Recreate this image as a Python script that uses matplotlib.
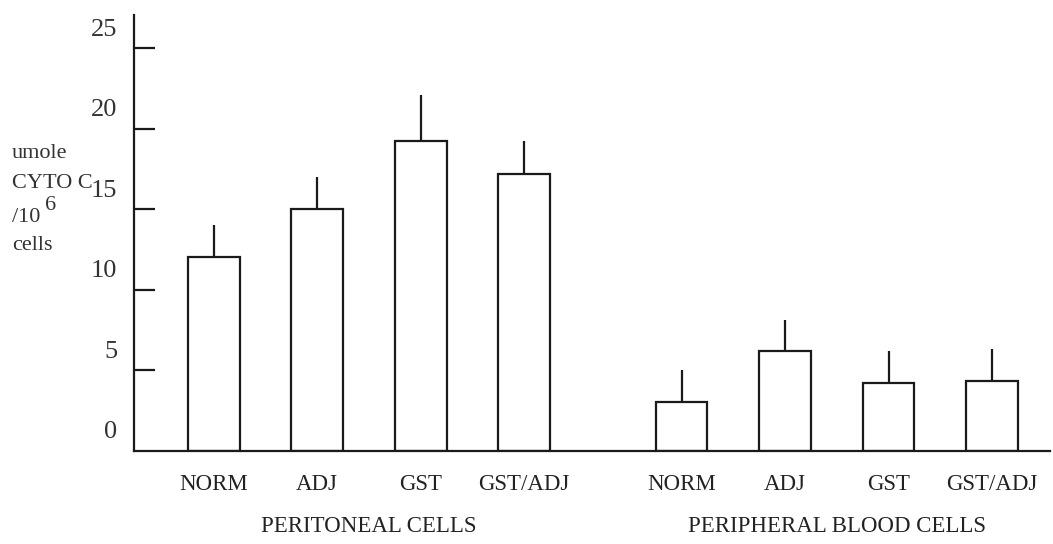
import matplotlib
matplotlib.use("Agg")
import matplotlib.pyplot as plt
import matplotlib.transforms as mtransforms

# values
groups = ["PERITONEAL CELLS", "PERIPHERAL BLOOD CELLS"]
treatments = ["NORM", "ADJ", "GST", "GST/ADJ"]
peritoneal_mean = [12.0, 15.0, 19.2, 17.2]
peritoneal_top = [14.0, 17.0, 22.1, 19.2]
blood_mean = [3.0, 6.15, 4.2, 4.3]
blood_top = [5.0, 8.1, 6.2, 6.3]
y_ticks = [0, 5, 10, 15, 20, 25]

means = peritoneal_mean + blood_mean
tops = peritoneal_top + blood_top
labels = treatments + treatments
gap = 1.52
xpos = [0, 1, 2, 3] + [3 + gap + i for i in range(4)]
errs = [t - m for t, m in zip(tops, means)]

plt.rcParams['font.family'] = ['Liberation Serif', 'DejaVu Serif']
ink = '#1a1a1a'

fig = plt.figure(figsize=(10.53, 5.44), dpi=100)
ax = fig.add_axes([134 / 1053, 1 - 450.5 / 544, (1050 - 134) / 1053, (450.5 - 15) / 544])

ax.bar(xpos, means, width=0.5, color='white', edgecolor=ink, linewidth=1.6, zorder=2)
ax.errorbar(xpos, means, yerr=[[0] * len(errs), errs], fmt='none', ecolor=ink,
            elinewidth=1.6, capsize=0, zorder=3)

ax.set_xlim(-0.77, 8.08)
ax.set_ylim(0, 27.05)

for side in ['top', 'right']:
    ax.spines[side].set_visible(False)
for side in ['left', 'bottom']:
    ax.spines[side].set_linewidth(1.6)
    ax.spines[side].set_color(ink)

ax.set_yticks(y_ticks)
ax.set_yticklabels([str(v) for v in y_ticks], fontsize=19, color='#333333')
ax.tick_params(axis='y', direction='in', length=15, width=1.6, color=ink, pad=12)
ax.yaxis.get_major_ticks()[0].tick1line.set_visible(False)
shift = mtransforms.ScaledTranslation(0, 15 / 72, fig.dpi_scale_trans)
for lab in ax.get_yticklabels():
    lab.set_transform(lab.get_transform() + shift)

ax.set_xticks(xpos)
ax.set_xticklabels(labels, fontsize=16.5, color='#222222')
ax.tick_params(axis='x', length=0, pad=17)

# group captions under each set of bars
blend = mtransforms.blended_transform_factory(ax.transData, fig.transFigure)
centers = [sum(xpos[:4]) / 4, sum(xpos[4:]) / 4]
for c, g in zip(centers, groups):
    ax.text(c, 1 - 527 / 544, g, transform=blend, ha='center', va='center',
            fontsize=16.5, color='#222222')

# y axis caption, written as a stack of lines at the left
fs = 16
fig.text(12 / 1053, 1 - 153 / 544, "umole", fontsize=fs, va='center', color='#333333')
fig.text(12 / 1053, 1 - 183 / 544, "CYTO C", fontsize=fs, va='center', color='#333333')
fig.text(12 / 1053, 1 - 217 / 544, "/10", fontsize=fs, va='center', color='#333333')
fig.text(45 / 1053, 1 - 205 / 544, "6", fontsize=fs, va='center', color='#333333')
fig.text(12 / 1053, 1 - 245 / 544, "cells", fontsize=fs, va='center', color='#333333')

fig.savefig("out.png", dpi=100, facecolor='white')
